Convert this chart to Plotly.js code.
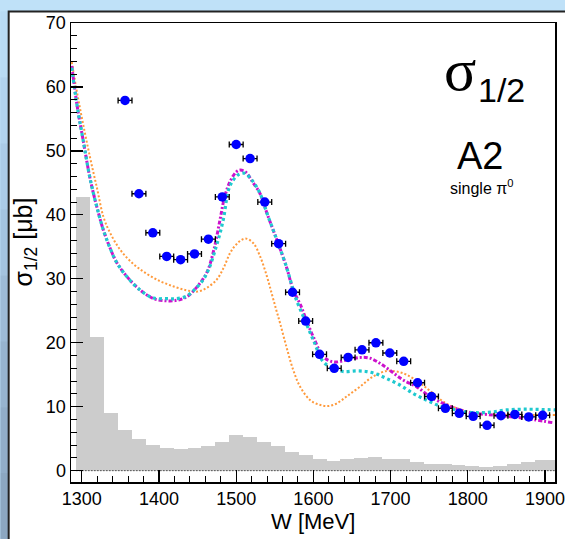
<!DOCTYPE html>
<html>
<head>
<meta charset="utf-8">
<script src="https://cdn.plot.ly/plotly-3.0.1.min.js"></script>
<style>html,body{margin:0;padding:0;background:#bfe1f8;}#plot{width:565px;height:539px;}</style>
</head>
<body>
<div id="plot"></div>
<script>
// ---- data ----
const pointW = [1356,1374,1392,1410,1428,1446,1464,1482,1500,1518,1537,1555,1573,1590,1608,1627,1645,1663,1681,1699,1717,1735,1753,1771,1789,1807,1825,1843,1861,1879,1897];
const pointSigma = [57.9,43.3,37.2,33.5,33.0,33.9,36.2,42.8,51.0,48.8,42.0,35.5,27.9,23.4,18.2,16.0,17.7,18.9,20.0,18.4,17.1,13.75,11.6,9.75,8.97,8.5,7.1,8.6,8.8,8.4,8.65];
const pointWErr = [9,9,9,9,9,9,9,9,9,9,9,9,9,9,9,9,9,9,9,9,9,9,9,9,9,9,9,9,9,9,9];

const histCenters = [1302,1320,1338,1356,1374,1392,1410,1428,1446,1464,1482,1500,1518,1536,1554,1572,1590,1608,1626,1644,1662,1680,1698,1716,1734,1752,1770,1788,1806,1824,1842,1860,1878,1896,1914];
const histValues = [42.8,20.9,9.0,6.4,4.9,4.0,3.5,3.45,3.55,3.8,4.5,5.6,5.25,4.5,3.8,2.95,2.45,1.83,1.56,1.83,1.98,2.1,1.88,1.83,1.3,1.1,1.0,0.95,0.8,0.63,0.8,1.0,1.3,1.67,1.67];
const histBinWidth = 18;

const cyanW = [1287,1294,1302,1311,1320,1328,1337,1345,1358,1376,1393,1410,1423,1436,1445,1457,1466,1474,1479,1484,1490,1496,1503,1511,1520,1531,1540,1548,1556,1565,1574,1578,1587,1600,1613,1626,1639,1656,1669,1682,1695,1712,1729,1747,1764,1781,1798,1816,1833,1850,1867,1885,1913];
const cyanSigma = [63,57,51.5,45.5,41,37.6,34.7,32.6,30.4,28.2,27.0,26.9,26.9,27.3,28.2,29.8,32.0,35.0,37.1,39.7,43.9,45.4,46.3,46.5,45.5,43.3,40.2,37.6,35,31.9,28.2,26.7,24.1,20.4,17.0,16.0,15.5,15.6,15.5,15.1,14.4,13.4,12.1,11.0,10.1,9.6,9.2,9.06,9.2,9.5,9.6,9.6,9.5];

const magentaW = [1287,1294,1302,1311,1320,1328,1337,1345,1358,1376,1393,1406,1421,1436,1449,1462,1471,1479,1485,1492,1500,1505,1512,1522,1531,1540,1548,1556,1565,1574,1583,1591,1600,1613,1626,1643,1660,1673,1686,1699,1716,1734,1751,1772,1790,1807,1833,1859,1885,1910];
const magentaSigma = [63.3,57,51.5,45.5,41,37.6,34.7,32.6,30.4,28.2,26.9,26.6,26.6,27.2,28.7,31.0,34.5,39.2,42.8,45.2,46.7,47,46.7,45,43.3,40.2,37.6,35,31.9,28.2,26.0,23.5,20.9,17.8,17.0,17.3,17.7,17.6,16.8,15.7,14.2,13.1,11.6,10.3,9.5,9.0,8.7,8.4,8.0,7.5];

const orangeW = [1287,1294,1302,1311,1320,1328,1337,1350,1367,1384,1402,1419,1436,1450,1462,1475,1484,1492,1501,1512,1522,1531,1540,1546,1552,1557,1565,1574,1583,1596,1608,1619,1630,1643,1660,1677,1695,1708,1721,1738,1755,1772,1790,1807,1833,1859,1885,1913];
const orangeSigma = [63.9,59,54,48.8,44,39.7,37.1,34.5,32.3,30.8,29.6,28.8,28.2,28.0,28.6,29.9,31.8,34.0,35.5,36.3,35.6,33.5,30.3,27.7,25.1,23,19.4,15.7,13.1,11.0,10.3,10.1,10.5,11.6,13.1,14.7,15.6,15.5,15.0,13.7,12.1,10.5,9.6,9.06,8.8,8.7,8.7,8.7];

const xTickVals = [1300,1400,1500,1600,1700,1800,1900];
const yTickVals = [0,10,20,30,40,50,60,70];

// ---- layout geometry (page pixels) ----
const PW = 565, PH = 539;
const L = 70.7, R = 555.3, T = 22.7, B = 482;
const pw = R - L, ph = B - T;
const px = v => (v - L) / pw;
const py = v => (B - v) / ph;

const FONT = 'Liberation Sans, Arial, Helvetica, sans-serif';

const traces = [
  {type:'bar', x: histCenters, y: histValues, width: histBinWidth,
   marker:{color:'#cccccc', line:{width:0}}, hoverinfo:'skip'},
  {type:'scatter', mode:'lines', x: orangeW, y: orangeSigma,
   line:{color:'#ff9a3c', width:2, dash:'2px,2px', shape:'spline', smoothing:1}},
  {type:'scatter', mode:'lines', x: magentaW, y: magentaSigma,
   line:{color:'#cc11cc', width:3, dash:'4px,2px,2px,2px', shape:'spline', smoothing:1}},
  {type:'scatter', mode:'lines', x: cyanW, y: cyanSigma,
   line:{color:'#1fc9cf', width:3.2, dash:'3px,3px', shape:'spline', smoothing:1}},
  {type:'scatter', mode:'markers', x: pointW, y: pointSigma,
   marker:{color:'#0000ff', size:9.5},
   error_x:{type:'data', array: pointWErr, color:'#000000', thickness:1.3, width:3}}
];

// gradient strip on left edge
const stripColors = ['#b9dbf4','#b2d3ee','#abcbe7','#a4c3df','#9dbbd7','#97b4cf','#91adc8','#8ca7c1'];
const shapes = [];
stripColors.forEach((c, i) => {
  const y0 = 11 + i * (PH - 11) / stripColors.length;
  const y1 = 11 + (i + 1) * (PH - 11) / stripColors.length;
  shapes.push({type:'rect', xref:'paper', yref:'paper', layer:'below',
    x0: px(0), x1: px(8), y0: py(y1), y1: py(y0), fillcolor: c, line:{width:0}});
});
shapes.push({type:'rect', xref:'paper', yref:'paper', layer:'below',
  x0: px(8.3), x1: px(PW + 20), y0: py(PH + 20), y1: py(11.3),
  fillcolor:'#ffffff', line:{color:'#222222', width:2}});
shapes.push({type:'line', xref:'x', yref:'y',
  x0: histCenters[0] - histBinWidth / 2, x1: 1913, y0: 0, y1: 0,
  line:{color:'#000000', width:1, dash:'1px,2px'}});

const annotations = [
  {xref:'paper', yref:'paper', x: px(442), y: py(70), xanchor:'left', yanchor:'middle',
   text:'σ', showarrow:false, font:{family:'Liberation Serif, DejaVu Serif, serif', size:60, color:'#000'}},
  {xref:'paper', yref:'paper', x: px(476), y: py(90), xanchor:'left', yanchor:'middle',
   text:'1/2', showarrow:false, font:{family:FONT, size:34, color:'#000'}},
  {xref:'paper', yref:'paper', x: px(480), y: py(156), xanchor:'center', yanchor:'middle',
   text:'A2', showarrow:false, font:{family:FONT, size:38, color:'#000'}},
  {xref:'paper', yref:'paper', x: px(482), y: py(187), xanchor:'center', yanchor:'middle',
   text:'single π<sup>0</sup>', showarrow:false, font:{family:FONT, size:16, color:'#000'}},
  {xref:'paper', yref:'paper', x: 0.5, y: py(522), xanchor:'center', yanchor:'middle',
   text:'W [MeV]', showarrow:false, font:{family:FONT, size:22, color:'#000'}},
  {xref:'paper', yref:'paper', x: px(25), y: py(242), xanchor:'center', yanchor:'middle',
   textangle:-90, text:'σ<sub>1/2</sub> [μb]', showarrow:false, font:{family:FONT, size:25, color:'#000'}}
];

const layout = {
  width: PW, height: PH,
  margin:{l:L, r:PW - R, t:T, b:PH - B, pad:0},
  paper_bgcolor:'#bfe1f8', plot_bgcolor:'#ffffff',
  showlegend:false, bargap:0,
  xaxis:{range:[1286,1913], tickvals:xTickVals, ticks:'inside', ticklen:12, tickwidth:1.2,
    tickcolor:'#000', showline:true, linecolor:'#000', linewidth:1.5, mirror:true,
    showgrid:false, zeroline:false, tickfont:{family:FONT, size:18, color:'#000'},
    minor:{ticks:'inside', ticklen:6, dtick:20, tick0:1300, tickcolor:'#000', tickwidth:1, showgrid:false}},
  yaxis:{range:[-1.77,70], tickvals:yTickVals, ticks:'inside', ticklen:12, tickwidth:1.2,
    tickcolor:'#000', showline:true, linecolor:'#000', linewidth:1.5, mirror:true,
    showgrid:false, zeroline:false, tickfont:{family:FONT, size:18, color:'#000'},
    minor:{ticks:'inside', ticklen:6, dtick:2, tick0:0, tickcolor:'#000', tickwidth:1, showgrid:false}},
  shapes: shapes,
  annotations: annotations
};

Plotly.newPlot('plot', traces, layout, {staticPlot:true});
</script>
</body>
</html>
